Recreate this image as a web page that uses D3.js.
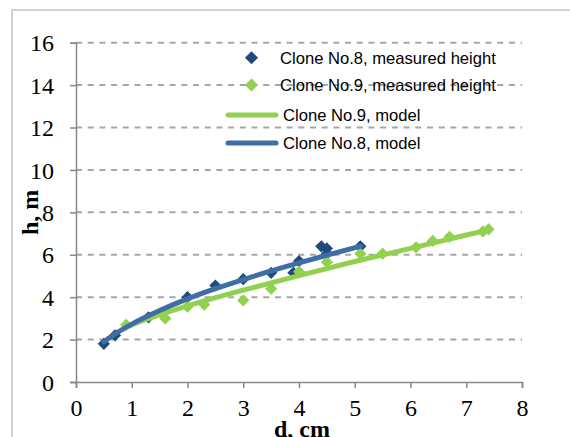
<!DOCTYPE html>
<html>
<head>
<meta charset="utf-8">
<script src="https://cdn.jsdelivr.net/npm/d3@7"></script>
<style>
  body { margin: 0; background: #fff; }
  svg { display: block; }
</style>
</head>
<body>
<script>
const fullWidth = 570
const fullHeight = 437
const plot = { left: 76, right: 522, top: 42.7, bottom: 382 }

const blueDark = '#1f4a7c'
const blueLine = '#3f6ea6'
const green = '#92d050'
const gridColor = '#a6a6a6'
const axisColor = '#878787'

// measured points, clone No.8
const clone8D = [0.5, 0.7, 1.3, 2.0, 2.5, 3.0, 3.5, 3.9, 4.0, 4.4, 4.5, 4.5, 5.1]
const clone8H = [1.8, 2.2, 3.05, 4.0, 4.55, 4.85, 5.15, 5.15, 5.7, 6.4, 6.3, 6.05, 6.4]

// measured points, clone No.9
const clone9D = [0.9, 1.6, 2.0, 2.3, 3.0, 3.5, 4.0, 4.5, 5.1, 5.5, 6.1, 6.4, 6.7, 7.3, 7.4]
const clone9H = [2.7, 3.0, 3.55, 3.65, 3.85, 4.4, 5.2, 5.65, 6.05, 6.05, 6.35, 6.65, 6.85, 7.1, 7.2]

// model curves
const model8D = [0.5, 0.75, 1, 1.5, 2, 2.5, 3, 3.5, 4, 4.5, 5.1]
const model8H = [1.9, 2.35, 2.73, 3.37, 3.92, 4.4, 4.83, 5.24, 5.62, 5.98, 6.4]
const model9D = [0.85, 1, 1.5, 2, 3, 4, 5, 6, 7, 7.4]
const model9H = [2.5, 2.69, 3.17, 3.59, 4.33, 5.02, 5.68, 6.3, 6.93, 7.17]

const xTicks = [0, 1, 2, 3, 4, 5, 6, 7, 8]
const yTicks = [0, 2, 4, 6, 8, 10, 12, 14, 16]

const legendLabels = [
  'Clone No.8, measured height',
  'Clone No.9, measured height',
  'Clone No.9, model',
  'Clone No.8, model'
]

const zip = (xs, ys) => xs.map((x, i) => ({ x: x, y: ys[i] }))

const svg = d3.select('body')
  .append('svg')
  .attr('width', fullWidth)
  .attr('height', fullHeight)

// picture frame
svg.append('path')
  .attr('d', `M12,${fullHeight}V10H${fullWidth}`)
  .attr('fill', 'none')
  .attr('stroke', '#c4c4c4')
  .attr('stroke-width', 1.5)

const x = d3.scaleLinear().domain([0, 8]).range([plot.left, plot.right])
const y = d3.scaleLinear().domain([0, 16]).range([plot.bottom, plot.top])

// grid
svg.append('g')
  .selectAll('line')
  .data(yTicks.filter(d => d > 0))
  .enter().append('line')
  .attr('x1', plot.left)
  .attr('x2', plot.right)
  .attr('y1', d => y(d))
  .attr('y2', d => y(d))
  .attr('stroke', gridColor)
  .attr('stroke-width', 2)
  .attr('stroke-dasharray', '6,5.7')

const yAxis = svg.append('g')
  .attr('transform', `translate(${plot.left},0)`)
  .call(d3.axisLeft(y).tickValues(yTicks).tickSize(6).tickPadding(16))

const xAxis = svg.append('g')
  .attr('transform', `translate(0,${plot.bottom})`)
  .call(d3.axisBottom(x).tickValues(xTicks).tickSize(6).tickPadding(11))

svg.selectAll('.domain, .tick line')
  .attr('stroke', axisColor)
  .attr('stroke-width', 1.5)

svg.selectAll('.tick text')
  .attr('fill', '#000')
  .style('font-family', '"Liberation Serif", "Times New Roman", serif')
  .style('font-size', '24px')

yAxis.selectAll('.tick text').attr('dy', '0.34em')
xAxis.selectAll('.tick text').attr('dy', '0.7em')

svg.append('text')
  .attr('transform', `translate(38,${(plot.top + plot.bottom) / 2}) rotate(-90)`)
  .attr('text-anchor', 'middle')
  .style('font-family', '"Liberation Serif", "Times New Roman", serif')
  .style('font-size', '24px')
  .style('font-weight', 'bold')
  .text('h, m')

svg.append('text')
  .attr('x', (plot.left + plot.right) / 2 + 3)
  .attr('y', 437)
  .attr('text-anchor', 'middle')
  .style('font-family', '"Liberation Serif", "Times New Roman", serif')
  .style('font-size', '24px')
  .style('font-weight', 'bold')
  .text('d, cm')

const diamond = d3.symbol().type(d3.symbolDiamond2).size(95)

const line = d3.line()
  .x(d => x(d.x))
  .y(d => y(d.y))
  .curve(d3.curveMonotoneX)

svg.append('g')
  .selectAll('path')
  .data(zip(clone8D, clone8H))
  .enter().append('path')
  .attr('transform', d => `translate(${x(d.x)},${y(d.y)})`)
  .attr('d', diamond)
  .attr('fill', blueDark)

svg.append('g')
  .selectAll('path')
  .data(zip(clone9D, clone9H))
  .enter().append('path')
  .attr('transform', d => `translate(${x(d.x)},${y(d.y)})`)
  .attr('d', diamond)
  .attr('fill', green)

svg.append('path')
  .datum(zip(model9D, model9H))
  .attr('d', line)
  .attr('fill', 'none')
  .attr('stroke', green)
  .attr('stroke-width', 5)
  .attr('stroke-linecap', 'round')

svg.append('path')
  .datum(zip(model8D, model8H))
  .attr('d', line)
  .attr('fill', 'none')
  .attr('stroke', blueLine)
  .attr('stroke-width', 5)
  .attr('stroke-linecap', 'round')

// legend
const legendY = [57.7, 85, 115, 143]
const legend = svg.append('g')
  .selectAll('g')
  .data(legendLabels)
  .enter().append('g')
  .attr('transform', (d, i) => `translate(0,${legendY[i]})`)

legend.filter((d, i) => i < 2)
  .append('path')
  .attr('transform', 'translate(251.5,0)')
  .attr('d', d3.symbol().type(d3.symbolDiamond2).size(110))
  .attr('fill', (d, i) => i === 0 ? blueDark : green)

legend.filter((d, i) => i >= 2)
  .append('line')
  .attr('x1', 228)
  .attr('x2', 276)
  .attr('stroke', (d, i) => i === 0 ? green : blueLine)
  .attr('stroke-width', 5)
  .attr('stroke-linecap', 'round')

legend.append('text')
  .attr('x', (d, i) => i < 2 ? 280 : 283)
  .attr('dy', '0.35em')
  .style('font-family', '"Liberation Sans", Arial, sans-serif')
  .style('font-size', '16.6px')
  .text(d => d)
</script>
</body>
</html>
